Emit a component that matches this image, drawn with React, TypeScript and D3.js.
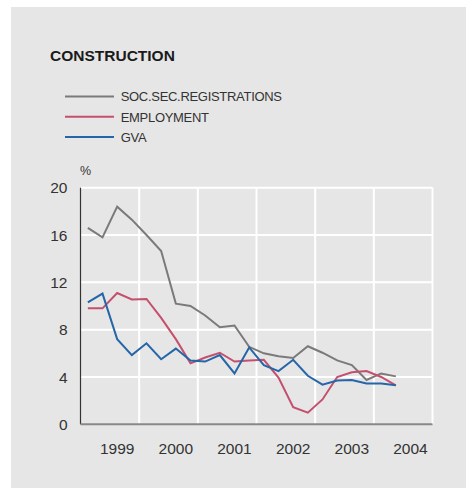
import React from "react";
import * as d3 from "d3";

const quarters = [
  "1999Q1","1999Q2","1999Q3","1999Q4",
  "2000Q1","2000Q2","2000Q3","2000Q4",
  "2001Q1","2001Q2","2001Q3","2001Q4",
  "2002Q1","2002Q2","2002Q3","2002Q4",
  "2003Q1","2003Q2","2003Q3","2003Q4",
  "2004Q1","2004Q2",
];
const allQuarters = [...quarters, "2004Q3", "2004Q4"];
const years = ["1999", "2000", "2001", "2002", "2003", "2004"];
const yTicks = [0, 4, 8, 12, 16, 20];

const socSec = [16.6, 15.8, 18.4, 17.3, 16.0, 14.65, 10.2, 10.0, 9.2, 8.2, 8.35, 6.55, 6.0, 5.75, 5.6, 6.6, 6.05, 5.4, 5.0, 3.75, 4.3, 4.05];
const employment = [9.8, 9.8, 11.1, 10.55, 10.6, 9.0, 7.2, 5.15, 5.65, 6.05, 5.3, 5.4, 5.45, 3.95, 1.45, 0.98, 2.1, 4.0, 4.4, 4.5, 4.0, 3.3];
const gva = [10.3, 11.05, 7.2, 5.85, 6.85, 5.5, 6.4, 5.4, 5.3, 5.85, 4.3, 6.5, 5.0, 4.5, 5.45, 4.1, 3.35, 3.7, 3.75, 3.45, 3.45, 3.3];

const seriesNames = ["SOC.SEC.REGISTRATIONS", "EMPLOYMENT", "GVA"];
const seriesColors = ["#7a7a7a", "#c4506e", "#2566a8"];

export default function App() {
  const W = 466, H = 488;
  const left = 80.5, right = 432.5, top = 187.7, bottom = 424.3;
  const font = "'Liberation Sans', Arial, Helvetica, sans-serif";

  const x = d3.scaleBand<string>().domain(allQuarters).range([left, right]);
  const xYear = d3.scaleBand<string>().domain(years).range([left, right]);
  const y = d3.scaleLinear().domain([0, 20]).range([bottom, top]);

  const line = d3
    .line<number>()
    .x((_, i) => (x(quarters[i]) as number) + x.bandwidth() / 2)
    .y((d) => y(d));

  const data = [socSec, employment, gva];

  return (
    <svg width={W} height={H} style={{ position: "absolute", left: 0, top: 0 }}>
      <rect x={11} y={7} width={W - 11} height={H - 7} fill="#e6e6e6" />
      <text x={50} y={60.7} fontFamily={font} fontWeight="bold" fontSize={15.5} fill="#1a1a1a">
        CONSTRUCTION
      </text>
      {seriesNames.map((n, i) => (
        <g key={n}>
          <line x1={65} x2={114} y1={96.5 + i * 20.2} y2={96.5 + i * 20.2} stroke={seriesColors[i]} strokeWidth={2} />
          <text x={120.7} y={101.3 + i * 20.2} fontFamily={font} fontSize={13} letterSpacing={-0.3} fill="#333">
            {n}
          </text>
        </g>
      ))}
      <text x={80} y={175} fontFamily={font} fontSize={12.5} fill="#333">%</text>
      {/* grid */}
      {yTicks.filter((t) => t > 0).map((t) => (
        <line key={t} x1={left} x2={right} y1={y(t)} y2={y(t)} stroke="#fff" strokeWidth={2} />
      ))}
      {years.map((yr) => (
        <line key={yr} x1={(xYear(yr) as number) + xYear.bandwidth()} x2={(xYear(yr) as number) + xYear.bandwidth()} y1={top} y2={bottom} stroke="#fff" strokeWidth={2} />
      ))}
      {/* axes */}
      <line x1={left} x2={left} y1={top} y2={bottom} stroke="#333" strokeWidth={1.2} />
      <line x1={left} x2={right} y1={bottom} y2={bottom} stroke="#888" strokeWidth={2} />
      {yTicks.map((t) => (
        <text key={t} x={67.5} y={y(t)} dy="0.36em" textAnchor="end" fontFamily={font} fontSize={15.5} fill="#333">
          {t}
        </text>
      ))}
      {years.map((yr) => (
        <text key={yr} x={(x(yr + "Q3") as number) + x.bandwidth() / 2} y={454.3} textAnchor="middle" fontFamily={font} fontSize={15.5} fill="#333">
          {yr}
        </text>
      ))}
      {data.map((s, i) => (
        <path key={i} d={line(s) as string} fill="none" stroke={seriesColors[i]} strokeWidth={2} strokeLinejoin="miter" />
      ))}
    </svg>
  );
}
